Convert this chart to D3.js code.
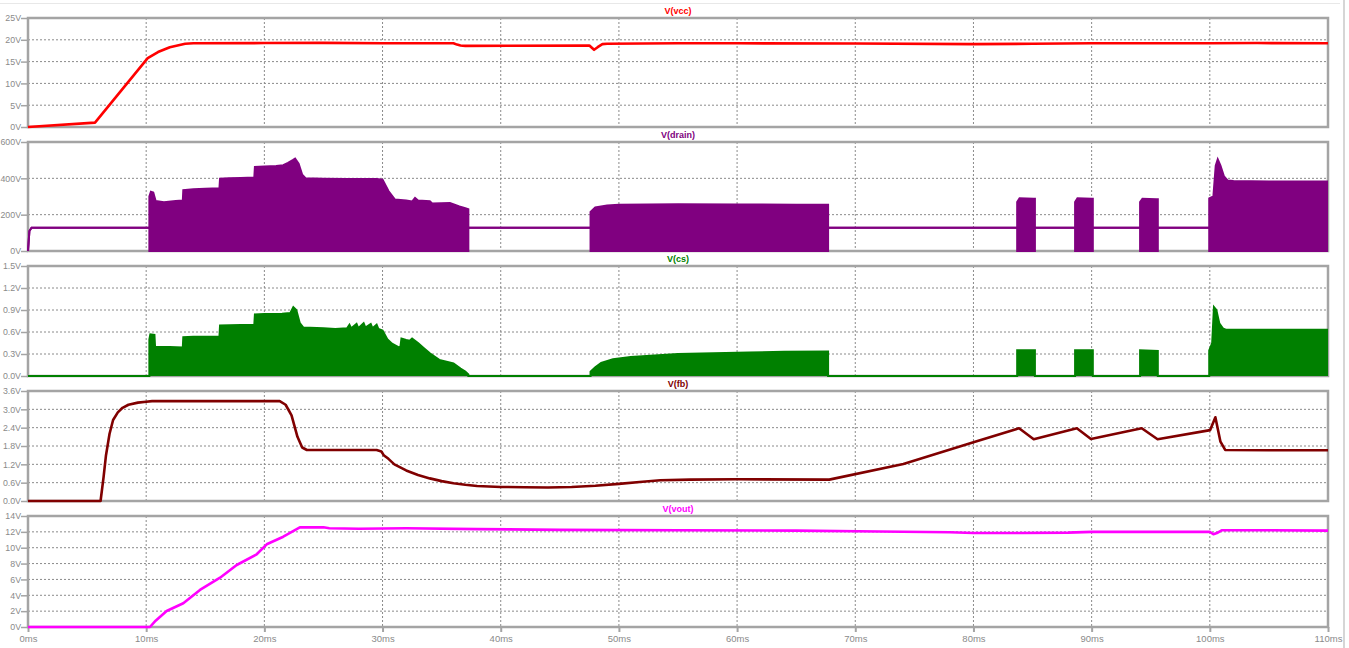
<!DOCTYPE html>
<html>
<head>
<meta charset="utf-8">
<script src="https://cdn.jsdelivr.net/npm/d3@7"></script>
<style>
  html, body { margin: 0; padding: 0; background: #ffffff; }
  svg { display: block; }
  text { font-family: "Liberation Sans", Arial, sans-serif; }
</style>
</head>
<body>
<svg id="chart" width="1349" height="648"></svg>
<script>
// ---- time axis (ms) ----
const timeTicks = [0, 10, 20, 30, 40, 50, 60, 70, 80, 90, 100, 110];

// ---- V(vcc) ----
const vccTicks = [0, 5, 10, 15, 20, 25];
const vccTime = [0, 5.67, 10.13, 11, 12, 13.3, 14, 20, 25, 30, 36, 36.3, 36.6, 37, 47.5, 47.9, 48.2, 48.6, 49, 55, 60, 70, 80, 85, 90, 100, 104, 110];
const vccVal  = [0, 1.0, 15.8, 17.2, 18.3, 19.1, 19.2, 19.25, 19.3, 19.2, 19.2, 18.9, 18.7, 18.6, 18.7, 17.7, 18.3, 19.0, 19.1, 19.2, 19.2, 19.15, 19.0, 19.1, 19.2, 19.2, 19.25, 19.2];

// ---- V(drain): switching envelope (top) and floor (bottom) ----
const drainTicks = [0, 200, 400, 600];
const drainTime = [0, 0.12, 0.3, 10.27,
  10.27, 10.4, 10.6, 10.8, 11.5, 12.5, 13.1,
  13.14, 14, 15, 16.2,
  16.25, 17, 18, 19.15,
  19.2, 20, 21, 21.6, 22.0, 22.4, 22.6, 22.9, 23.2,
  23.5, 25, 27, 29.5, 30.0, 30.5, 31.05, 32, 32.5, 32.75, 33, 34, 34.2, 35.7, 36.5, 37.0, 37.26,
  37.26, 47.6,
  47.6, 48, 49, 50, 55, 60, 65, 67.7,
  67.7, 83.7,
  83.7, 83.9, 85.1, 85.2,
  85.2, 88.6,
  88.6, 88.8, 90.0, 90.1,
  90.1, 94.1,
  94.1, 94.3, 95.5, 95.6,
  95.6, 99.95,
  99.95, 100.3, 100.5, 100.67, 100.9, 101.2, 101.5, 102, 105, 110];
const drainTop = [0, 110, 128, 128,
  300, 326, 322, 275, 268, 275, 278,
  335, 340, 342, 345,
  398, 400, 402, 405,
  462, 465, 468, 472, 485, 500, 508, 480, 420,
  400, 398, 396, 396, 392, 330, 283, 278, 272, 292, 278, 274, 262, 264, 245, 235, 230,
  128, 128,
  215, 240, 250, 255, 257, 256, 255, 255,
  128, 128,
  270, 290, 288, 288,
  128, 128,
  270, 290, 288, 288,
  128, 128,
  270, 288, 285, 285,
  128, 128,
  290, 300, 470, 505, 470, 410, 388, 385, 383, 382];
const drainBottom = [0, 110, 128, 128,
  0, 0, 0, 0, 0, 0, 0,
  0, 0, 0, 0,
  0, 0, 0, 0,
  0, 0, 0, 0, 0, 0, 0, 0, 0,
  0, 0, 0, 0, 0, 0, 0, 0, 0, 0, 0, 0, 0, 0, 0, 0, 0,
  128, 128,
  0, 0, 0, 0, 0, 0, 0, 0,
  128, 128,
  0, 0, 0, 0,
  128, 128,
  0, 0, 0, 0,
  128, 128,
  0, 0, 0, 0,
  128, 128,
  0, 0, 0, 0, 0, 0, 0, 0, 0, 0];

// ---- V(cs): current-sense envelope ----
const csTicks = [0, 0.3, 0.6, 0.9, 1.2, 1.5];
const csTime = [0, 10.27, 10.27, 10.35, 10.7, 10.75, 12, 13.1, 13.14, 14, 16.2, 16.25, 18, 19.15,
  19.2, 20, 21.5, 22.2, 22.45, 22.7, 23.0, 23.3, 25, 26, 27, 27.2, 27.35, 27.8, 27.95, 28.4, 28.55, 29.0, 29.15, 29.5, 29.65,
  30.0, 30.4, 30.8, 31.5, 31.6, 32.0, 32.3, 32.5, 33.0, 33.5, 34, 34.8, 35.5, 36, 36.6, 37.0, 37.26, 37.26,
  47.6, 47.6, 48.0, 48.5, 49.5, 51, 53, 55, 58, 61, 64, 67.7, 67.7,
  83.7, 83.7, 85.2, 85.2, 88.6, 88.6, 90.1, 90.1, 94.1, 94.1, 95.6, 95.6,
  99.95, 99.95, 100.2, 100.35, 100.55, 100.8, 101.1, 101.4, 110];
const csVal = [0, 0, 0.5, 0.568, 0.56, 0.40, 0.395, 0.39, 0.53, 0.535, 0.54, 0.69, 0.695, 0.70,
  0.84, 0.845, 0.85, 0.86, 0.94, 0.90, 0.72, 0.66, 0.65, 0.64, 0.65, 0.70, 0.65, 0.71, 0.65, 0.72, 0.66, 0.71, 0.65, 0.70, 0.64,
  0.62, 0.50, 0.44, 0.38, 0.51, 0.49, 0.48, 0.51, 0.45, 0.38, 0.31, 0.22, 0.19, 0.17, 0.10, 0.06, 0.02, 0,
  0, 0.06, 0.12, 0.18, 0.23, 0.26, 0.28, 0.30, 0.31, 0.32, 0.33, 0.335, 0,
  0, 0.35, 0.35, 0, 0, 0.35, 0.35, 0, 0, 0.35, 0.34, 0,
  0, 0.35, 0.45, 0.94, 0.90, 0.72, 0.65, 0.63, 0.63];

// ---- V(fb) ----
const fbTicks = [0, 0.6, 1.2, 1.8, 2.4, 3.0, 3.6];
const fbTime = [0, 6.14, 6.4, 6.6, 6.9, 7.2, 7.6, 8.0, 8.5, 9.3, 10, 10.5, 21.3, 21.8, 22.3, 22.8, 23.2, 23.6,
  29.5, 29.9, 30.1, 30.5, 31, 32, 33, 34, 35, 36, 37, 38, 40, 42, 44, 46, 48, 50, 52, 53.5, 56, 60, 67.8,
  74.07, 80, 83.86, 85.1, 88.75, 89.94, 94.24, 95.58, 100.03, 100.47, 100.9, 101.3, 105, 110];
const fbVal = [0, 0, 0.8, 1.5, 2.2, 2.65, 2.9, 3.05, 3.15, 3.22, 3.25, 3.27, 3.27, 3.15, 2.8, 2.1, 1.75, 1.67,
  1.67, 1.62, 1.5, 1.38, 1.2, 1.0, 0.85, 0.74, 0.65, 0.58, 0.53, 0.49, 0.46, 0.45, 0.44, 0.46, 0.50, 0.56, 0.63, 0.68, 0.70, 0.71, 0.70,
  1.21, 1.92, 2.38, 2.02, 2.38, 2.03, 2.38, 2.02, 2.32, 2.74, 1.94, 1.67, 1.66, 1.66];

// ---- V(vout) ----
const voutTicks = [0, 2, 4, 6, 8, 10, 12, 14];
const voutTime = [0, 10.32, 10.8, 11.73, 13.14, 14.55, 16.25, 17.66, 19.35, 20.2, 21.6, 23.0, 25.0, 25.5, 28, 32, 38, 45, 55, 65, 72, 78, 80, 84, 88, 90, 95, 100, 100.3, 100.6, 101, 105, 110];
const voutVal  = [0, 0, 0.8, 2.02, 2.99, 4.67, 6.22, 7.82, 9.17, 10.43, 11.39, 12.57, 12.57, 12.45, 12.4, 12.45, 12.35, 12.25, 12.2, 12.15, 12.05, 11.95, 11.85, 11.85, 11.9, 12.0, 12.0, 12.0, 11.7, 11.85, 12.2, 12.2, 12.15];

// ---------------------------------------------------------------
const svg = d3.select("#chart");
const left = 28, right = 1328;
const x = d3.scaleLinear().domain([0, 110]).range([left, right]);

const axisColor = "#a4a4a4";
const labelColor = "#8a8a8a";
const gridColor = "#8a8a8a";

// faint window edges
svg.append("line").attr("x1", 0).attr("x2", 1340).attr("y1", 3.5).attr("y2", 3.5)
  .attr("stroke", "#e8e8e8").attr("stroke-width", 1);
svg.append("line").attr("x1", 1344).attr("x2", 1344).attr("y1", 0).attr("y2", 648)
  .attr("stroke", "#d6d6d6").attr("stroke-width", 2);

const panels = [
  { name: "V(vcc)",   color: "#ff0000", top: 18,  bottom: 127, ticks: vccTicks,   fmt: d => d + "V" },
  { name: "V(drain)", color: "#800080", top: 142, bottom: 251, ticks: drainTicks, fmt: d => d + "V" },
  { name: "V(cs)",    color: "#008000", top: 266, bottom: 376, ticks: csTicks,    fmt: d => d3.format(".1f")(d) + "V" },
  { name: "V(fb)",    color: "#800000", top: 391, bottom: 501, ticks: fbTicks,    fmt: d => d3.format(".1f")(d) + "V" },
  { name: "V(vout)",  color: "#ff00ff", top: 516, bottom: 627, ticks: voutTicks,  fmt: d => d + "V" }
];

panels.forEach((p, i) => {
  const ticks = p.ticks;
  p.y = d3.scaleLinear().domain([ticks[0], ticks[ticks.length - 1]]).range([p.bottom, p.top]);
  const g = svg.append("g");

  // dotted grid
  g.selectAll("line.hg").data(ticks.slice(1, -1)).join("line")
    .attr("x1", left).attr("x2", right)
    .attr("y1", d => p.y(d)).attr("y2", d => p.y(d))
    .attr("stroke", gridColor).attr("stroke-width", 1).attr("stroke-dasharray", "2,2");
  g.selectAll("line.vg").data(timeTicks.slice(1, -1)).join("line")
    .attr("x1", d => x(d)).attr("x2", d => x(d))
    .attr("y1", p.top).attr("y2", p.bottom)
    .attr("stroke", gridColor).attr("stroke-width", 1).attr("stroke-dasharray", "2,2");

  // frame
  g.append("rect").attr("x", left).attr("y", p.top)
    .attr("width", right - left).attr("height", p.bottom - p.top)
    .attr("fill", "none").attr("stroke", axisColor).attr("stroke-width", 2.5);

  // y axis
  const ya = g.append("g").attr("transform", `translate(${left},0)`)
    .call(d3.axisLeft(p.y).tickValues(ticks).tickFormat(p.fmt).tickSize(7).tickSizeOuter(0).tickPadding(0));
  ya.select(".domain").remove();
  ya.selectAll(".tick line").attr("stroke", axisColor).attr("stroke-width", 1.5);
  ya.selectAll(".tick text").attr("fill", labelColor).attr("font-size", "8.8px")
    .attr("font-family", "'Liberation Sans', Arial, sans-serif");

  // title
  svg.append("text").attr("x", (left + right) / 2).attr("y", p.top - 4)
    .attr("text-anchor", "middle").attr("fill", p.color)
    .attr("font-size", "9px").attr("font-weight", "bold").text(p.name);
});

// bottom time axis
const last = panels[panels.length - 1];
const xa = svg.append("g").attr("transform", `translate(0,${last.bottom})`)
  .call(d3.axisBottom(x).tickValues(timeTicks).tickFormat(d => d + "ms").tickSize(5).tickSizeOuter(0).tickPadding(3));
xa.select(".domain").remove();
xa.selectAll(".tick line").attr("stroke", axisColor).attr("stroke-width", 2);
xa.selectAll(".tick text").attr("fill", labelColor).attr("font-size", "9.5px")
  .attr("font-family", "'Liberation Sans', Arial, sans-serif");

const zip = (t, v) => t.map((d, i) => [d, v[i]]);

// V(vcc)
{
  const p = panels[0];
  svg.append("path").datum(zip(vccTime, vccVal))
    .attr("d", d3.line().x(d => x(d[0])).y(d => p.y(d[1])))
    .attr("fill", "none").attr("stroke", p.color).attr("stroke-width", 2.6).attr("stroke-linejoin", "round");
}

// V(drain): filled switching band
{
  const p = panels[1];
  const data = drainTime.map((t, i) => ({ t, hi: drainTop[i], lo: drainBottom[i] }));
  svg.append("path").datum(data)
    .attr("d", d3.area().x(d => x(d.t)).y0(d => p.y(d.lo)).y1(d => p.y(d.hi)))
    .attr("fill", p.color);
  svg.append("path").datum(data)
    .attr("d", d3.line().x(d => x(d.t)).y(d => p.y(d.hi)))
    .attr("fill", "none").attr("stroke", p.color).attr("stroke-width", 2);
  svg.append("path").datum(data)
    .attr("d", d3.line().x(d => x(d.t)).y(d => p.y(d.lo)))
    .attr("fill", "none").attr("stroke", p.color).attr("stroke-width", 2);
}

// V(cs): filled pulse envelope
{
  const p = panels[2];
  const data = zip(csTime, csVal);
  svg.append("path").datum(data)
    .attr("d", d3.area().x(d => x(d[0])).y0(p.y(0)).y1(d => p.y(d[1])))
    .attr("fill", p.color);
  svg.append("path").datum(data)
    .attr("d", d3.line().x(d => x(d[0])).y(d => p.y(d[1])))
    .attr("fill", "none").attr("stroke", p.color).attr("stroke-width", 2);
}

// V(fb)
{
  const p = panels[3];
  svg.append("path").datum(zip(fbTime, fbVal))
    .attr("d", d3.line().x(d => x(d[0])).y(d => p.y(d[1])))
    .attr("fill", "none").attr("stroke", p.color).attr("stroke-width", 2.6).attr("stroke-linejoin", "round");
}

// V(vout)
{
  const p = panels[4];
  svg.append("path").datum(zip(voutTime, voutVal))
    .attr("d", d3.line().x(d => x(d[0])).y(d => p.y(d[1])))
    .attr("fill", "none").attr("stroke", p.color).attr("stroke-width", 2.6).attr("stroke-linejoin", "round");
}
</script>
</body>
</html>
